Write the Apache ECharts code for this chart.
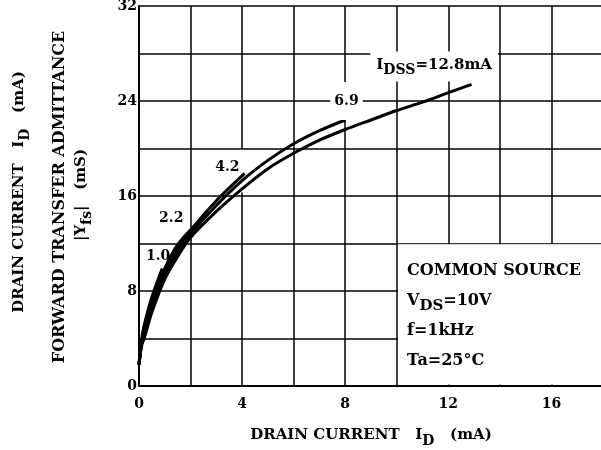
<!DOCTYPE html>
<html>
<head>
<meta charset="utf-8">
<script src="https://cdn.jsdelivr.net/npm/echarts@6/dist/echarts.min.js"></script>
<style>
  html, body { margin: 0; padding: 0; background: #fff; }
  #main { width: 601px; height: 450px; }
</style>
</head>
<body>
<div id="main"></div>
<script>
// |Yfs| vs ID, one curve per IDSS (mA)
const idss = ['1.0', '2.2', '4.2', '6.9', '12.8'];

const curve10 = [[0, 1.8], [0.1, 3.9], [0.2, 5.1], [0.5, 7.5], [0.9, 9.9]];
const curve22 = [[0, 1.8], [0.1, 3.7], [0.2, 4.9], [0.5, 7.2], [1, 9.9], [1.5, 11.9], [2.2, 13.6]];
const curve42 = [[0, 1.8], [0.1, 3.6], [0.2, 4.6], [0.5, 6.9], [1, 9.6], [1.5, 11.5], [2, 13.1], [3, 15.6], [4.1, 17.9]];
const curve69 = [[0, 1.8], [0.1, 3.5], [0.2, 4.3], [0.5, 6.5], [1, 9.3], [1.5, 11.2], [2, 12.8], [3, 15.2],
  [4, 17.3], [5, 19.0], [6, 20.4], [7, 21.5], [8, 22.4]];
const curve128 = [[0, 1.8], [0.1, 3.4], [0.2, 4.0], [0.5, 6.2], [1, 9.0], [1.5, 10.9], [2, 12.5], [3, 14.7],
  [4, 16.6], [5, 18.3], [6, 19.6], [7, 20.7], [8, 21.6], [9, 22.4], [10, 23.2], [11, 23.9], [12, 24.7], [12.9, 25.4]];

const xTicks = [0, 4, 8, 12, 16];
const yTicks = [0, 8, 16, 24, 32];

const FONT = 'DejaVu Serif';
const subRich = {
  n: { fontFamily: FONT, fontWeight: 'bold', fontSize: 15, color: '#000', verticalAlign: 'top' },
  s: { fontFamily: FONT, fontWeight: 'bold', fontSize: 14, color: '#000', verticalAlign: 'top', padding: [6, 0, 0, 0] }
};
const boxRich = {
  n: { fontFamily: FONT, fontWeight: 'bold', fontSize: 16, color: '#000', verticalAlign: 'top' },
  s: { fontFamily: FONT, fontWeight: 'bold', fontSize: 15, color: '#000', verticalAlign: 'top', padding: [6, 0, 0, 0] }
};

function curve(data, i, extra) {
  return Object.assign({
    name: idss[i],
    type: 'line',
    data: data,
    smooth: 0.3,
    showSymbol: false,
    symbol: 'none',
    lineStyle: { color: '#000', width: 3 },
    silent: true
  }, extra || {});
}

function tag(text, x, y, pad, rich) {
  return {
    coord: [x, y],
    symbol: 'circle',
    symbolSize: 0,
    label: {
      show: true,
      position: 'inside',
      formatter: text,
      color: '#000',
      fontFamily: FONT,
      fontWeight: 'bold',
      fontSize: 14,
      backgroundColor: pad ? '#fff' : 'transparent',
      padding: pad || 0,
      rich: rich
    }
  };
}

function boxText(text, x, y, rotated, size, rich) {
  const style = { text: text, fontFamily: FONT, fontWeight: 'bold', fontSize: size || 16, fill: '#000',
    align: rotated ? 'center' : 'left', verticalAlign: 'middle' };
  if (text.indexOf('{') >= 0) style.rich = rich || boxRich;
  return { type: 'text', x: x, y: y, z: 100, rotation: rotated ? Math.PI / 2 : 0, style: style };
}

const chart = echarts.init(document.getElementById('main'));

chart.setOption({
  backgroundColor: '#fff',
  animation: false,
  grid: { left: 139, width: 464, top: 6, height: 380, containLabel: false, outerBoundsMode: 'none' },
  xAxis: {
    type: 'value',
    min: 0,
    max: 18,
    interval: 2,
    name: '{n|DRAIN CURRENT   I}{s|D}{n|   (mA)}',
    nameLocation: 'middle',
    nameGap: 42,
    nameTextStyle: { rich: subRich },
    axisLine: { show: true, onZero: false, lineStyle: { color: '#000', width: 2 } },
    axisTick: { show: false },
    axisLabel: {
      margin: 11,
      color: '#000',
      fontFamily: FONT,
      fontWeight: 'bold',
      fontSize: 14,
      formatter: v => xTicks.indexOf(v) >= 0 ? String(v) : ''
    },
    splitLine: { show: true, lineStyle: { color: '#000', width: 1.5 } }
  },
  yAxis: {
    type: 'value',
    min: 0,
    max: 32,
    interval: 4,
    axisLine: { show: true, onZero: false, lineStyle: { color: '#000', width: 2 } },
    axisTick: { show: false },
    axisLabel: {
      margin: 2,
      color: '#000',
      fontFamily: FONT,
      fontWeight: 'bold',
      fontSize: 14,
      formatter: v => yTicks.indexOf(v) >= 0 ? String(v) : ''
    },
    splitLine: { show: true, lineStyle: { color: '#000', width: 1.5 } }
  },
  series: [
    curve(curve128, 4, {
      markArea: {
        silent: true,
        itemStyle: { color: '#fff' },
        data: [
          [{ coord: [10.05, 0.12] }, { coord: [18.5, 11.93] }],
          [{ coord: [3.93, 16.3] }, { coord: [4.07, 19.9] }]
        ]
      },
      markPoint: {
        silent: true,
        data: [
          tag('{n|I}{s|DSS}{n|=12.8mA}', 11.45, 26.9, [6, 6, 4, 6], subRich),
          tag('6.9', 8.05, 24.0, [12, 4, 12, 4])
        ]
      }
    }),
    curve(curve69, 3),
    curve(curve42, 2, {
      markPoint: { silent: true, data: [tag('4.2', 3.43, 18.4)] }
    }),
    curve(curve22, 1, {
      markPoint: { silent: true, data: [tag('2.2', 1.25, 14.1)] }
    }),
    curve(curve10, 0, {
      markPoint: { silent: true, data: [tag('1.0', 0.74, 10.9)] }
    })
  ],
  graphic: [
    boxText('{n|DRAIN CURRENT   I}{s|D}{n|   (mA)}', 22, 192, true, 15, subRich),
    boxText('FORWARD TRANSFER ADMITTANCE', 60, 197, true, 16),
    boxText('{n||Y}{s|fs}{n||   (mS)}', 84, 195, true, 15, subRich),
    boxText('COMMON SOURCE', 407, 271),
    boxText('{n|V}{s|DS}{n|=10V}', 407, 303),
    boxText('f=1kHz', 407, 331),
    boxText('Ta=25°C', 407, 361)
  ]
});
</script>
</body>
</html>
